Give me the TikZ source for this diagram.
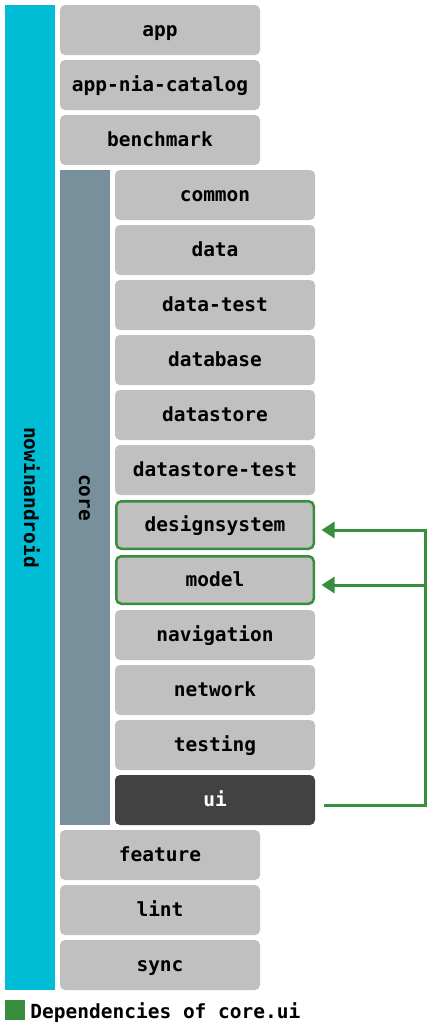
\documentclass[tikz,border=0pt]{standalone}
\usepackage{fontspec}
\setmonofont{DejaVu Sans Mono}
\usetikzlibrary{arrows.meta}
\definecolor{niacyan}{HTML}{00BCD4}
\definecolor{coregray}{HTML}{78909C}
\definecolor{boxgray}{HTML}{C0C0C0}
\definecolor{darkbox}{HTML}{424242}
\definecolor{depgreen}{HTML}{388E3C}
\tikzset{
  lbl/.style={font=\ttfamily\bfseries\fontsize{19.5}{22}\selectfont, text height=12pt, text depth=0pt},
  modbox/.style={lbl, rectangle, rounded corners=5pt, fill=boxgray, text=black,
    minimum width=200pt, minimum height=50pt, inner sep=0pt},
  depbox/.style={modbox, draw=depgreen, line width=2.5pt},
  uibox/.style={modbox, fill=darkbox, text=white},
  bar/.style={lbl, rectangle, inner sep=0pt, minimum width=50pt},
  dep/.style={draw=depgreen, line width=3pt, -{Triangle[length=13pt,width=16pt]}},
}
\begin{document}
\begin{tikzpicture}[x=1pt,y=-1pt]
\useasboundingbox (0,0) rectangle (430,1026);
% outer bar
\node[bar, fill=niacyan, minimum height=985pt] (nia) at (30,497.5) {};
\node[lbl, rotate=-90] (nialbl) at (nia.center) {nowinandroid};
% top modules
\node[modbox] (app) at (160,30) {app};
\node[modbox] (catalog) at (160,85) {app-nia-catalog};
\node[modbox] (benchmark) at (160,140) {benchmark};
% core
\node[bar, fill=coregray, minimum height=655pt] (core) at (85,497.5) {};
\node[lbl, rotate=-90] (corelbl) at (core.center) {core};
\node[modbox] (common) at (215,195) {common};
\node[modbox] (data) at (215,250) {data};
\node[modbox] (datatest) at (215,305) {data-test};
\node[modbox] (database) at (215,360) {database};
\node[modbox] (datastore) at (215,415) {datastore};
\node[modbox] (datastoretest) at (215,470) {datastore-test};
\node[depbox, minimum width=197.5pt, minimum height=47.5pt] (designsystem) at (215,525) {designsystem};
\node[depbox, minimum width=197.5pt, minimum height=47.5pt] (model) at (215,580) {model};
\node[modbox] (navigation) at (215,635) {navigation};
\node[modbox] (network) at (215,690) {network};
\node[modbox] (testing) at (215,745) {testing};
\node[uibox] (ui) at (215,800) {ui};
% bottom modules
\node[modbox] (feature) at (160,855) {feature};
\node[modbox] (lint) at (160,910) {lint};
\node[modbox] (sync) at (160,965) {sync};
% dependencies
\coordinate (turn) at (425,805);
\draw[dep] ([xshift=8.75pt,yshift=-5pt]ui.east) -- (turn) |- ([xshift=6.5pt,yshift=-5pt]designsystem.east);
\draw[dep] (turn) |- ([xshift=6.5pt,yshift=-5pt]model.east);
% legend
\node[rectangle, fill=depgreen, minimum width=20pt, minimum height=20pt, inner sep=0pt] (legkey) at (15,1010) {};
\node[lbl, anchor=west, inner sep=0pt] (legtext) at ([xshift=5pt,yshift=-2pt]legkey.east) {Dependencies of core.ui};
\end{tikzpicture}
\end{document}
